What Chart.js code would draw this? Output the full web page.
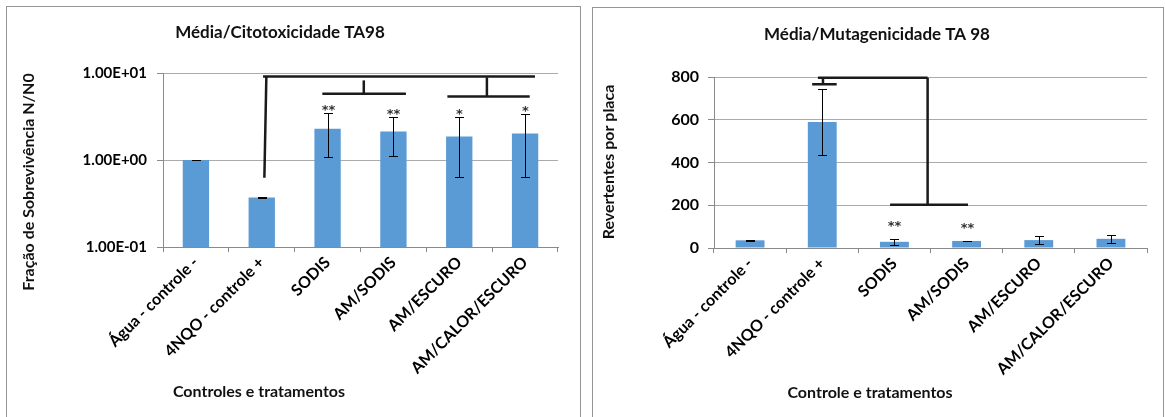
<!DOCTYPE html>
<html>
<head>
<meta charset="utf-8">
<script src="https://cdn.jsdelivr.net/npm/chart.js@4.4.1/dist/chart.umd.min.js"></script>
<style>
  html, body { margin: 0; padding: 0; background: #fff; }
  body { width: 1165px; height: 417px; position: relative; overflow: hidden; }
  .frame { position: absolute; border: 1px solid #959595; box-sizing: border-box; }
  #f1 { left: 6px; top: 6px; width: 575px; height: 440px; }
  #f2 { left: 592px; top: 7px; width: 572px; height: 440px; }
  canvas { position: absolute; }
  #c1 { left: 7px; top: 7px; width: 573px; height: 410px; }
  #c2 { left: 593px; top: 8px; width: 570px; height: 409px; }
</style>
</head>
<body>
<div class="frame" id="f1"></div>
<div class="frame" id="f2"></div>
<canvas id="c1" width="573" height="410"></canvas>
<canvas id="c2" width="570" height="409"></canvas>
<script>
// Groups tested (same for both panels)
const categories = ['Água - controle -', '4NQO - controle +', 'SODIS', 'AM/SODIS', 'AM/ESCURO', 'AM/CALOR/ESCURO'];

// Cytotoxicity: survival fraction N/N0 (log axis)
const cytoMean = [1.0, 0.37, 2.28, 2.12, 1.86, 2.01];
const cytoErr  = [0.003, 0.003, 1.2, 1.0, 1.22, 1.38];
const cytoSig  = ['', '', '**', '**', '*', '*'];
const cytoTicks = [0.1, 1, 10];
const cytoTickLabels = ['1.00E-01', '1.00E+00', '1.00E+01'];

// Mutagenicity: revertants per plate
const mutMean = [36, 590, 29, 33, 37, 43];
const mutErr  = [3, 153, 13, 2, 19, 18];
const mutSig  = ['', '', '**', '**', '', ''];
const mutTicks = [0, 200, 400, 600, 800];

// Comparison brackets, as [category index, value] segment ends
const cytoBrackets = [
  [[1.02, 9.14], [5.15, 9.14]],
  [[1.07, 9.14], [1.04, 0.625]],
  [[1.92, 5.77], [3.19, 5.77]],
  [[2.55, 8.22], [2.55, 5.77]],
  [[3.82, 5.37], [5.07, 5.37]],
  [[4.42, 8.9], [4.42, 5.37]]
];
const mutBrackets = [
  [[0.86, 766], [1.20, 766]],
  [[1.01, 766], [1.01, 797]],
  [[0.94, 797], [2.46, 797]],
  [[2.46, 797], [2.46, 202]],
  [[1.94, 202], [3.02, 202]]
];

const FONT = 'Lato, "Open Sans", sans-serif';
const STAR_FONT = '"DejaVu Sans", sans-serif';
const BAR = '#5B9BD5';
const GRID = '#ababab';
const AXIS = '#8a8a8a';

// Error bars, significance marks, brackets and panel texts
function panelPlugin(cfg) {
  return {
    id: 'panel',
    afterDatasetsDraw(chart) {
      const ctx = chart.ctx;
      const xs = chart.scales.x, ys = chart.scales.y;
      const meta = chart.getDatasetMeta(0);
      ctx.save();
      ctx.strokeStyle = '#000';
      ctx.fillStyle = '#333';
      ctx.lineWidth = 1;
      ctx.font = 'bold 13px ' + STAR_FONT;
      ctx.textAlign = 'center';
      ctx.textBaseline = 'alphabetic';
      cfg.mean.forEach((v, i) => {
        const px = Math.round(meta.data[i].x) + 0.5;
        const e = cfg.err[i];
        const t = Math.round(ys.getPixelForValue(v + e)) + 0.5;
        const b = Math.round(ys.getPixelForValue(v - e)) + 0.5;
        ctx.beginPath();
        ctx.moveTo(px, t); ctx.lineTo(px, b);
        ctx.moveTo(px - 4.5, t); ctx.lineTo(px + 4.5, t);
        ctx.moveTo(px - 4.5, b); ctx.lineTo(px + 4.5, b);
        ctx.stroke();
        if (cfg.sig[i]) ctx.fillText(cfg.sig[i], px, t - cfg.sigGap);
      });
      ctx.strokeStyle = '#1a1a1a';
      ctx.lineWidth = 2.5;
      ctx.lineCap = 'butt';
      cfg.brackets.forEach(([a, b]) => {
        ctx.beginPath();
        ctx.moveTo(xs.getPixelForValue(a[0]), ys.getPixelForValue(a[1]));
        ctx.lineTo(xs.getPixelForValue(b[0]), ys.getPixelForValue(b[1]));
        ctx.stroke();
      });
      ctx.restore();
    },
    afterDraw(chart) {
      const ctx = chart.ctx;
      ctx.save();
      ctx.fillStyle = '#111';
      ctx.textAlign = 'center';
      ctx.textBaseline = 'middle';
      ctx.font = 'bold 17px ' + FONT;
      ctx.fillText(cfg.title, cfg.titlePos[0], cfg.titlePos[1]);
      ctx.font = 'bold 16px ' + FONT;
      ctx.fillText(cfg.xTitle, cfg.xTitlePos[0], cfg.xTitlePos[1]);
      ctx.translate(cfg.yTitlePos[0], cfg.yTitlePos[1]);
      ctx.rotate(-Math.PI / 2);
      ctx.fillText(cfg.yTitle, 0, 0);
      ctx.restore();
    }
  };
}

function makeChart(id, o) {
  return new Chart(document.getElementById(id), {
    type: 'bar',
    data: {
      labels: categories,
      datasets: [{ data: o.mean, backgroundColor: BAR, borderWidth: 0,
                   barPercentage: 0.4, categoryPercentage: 1.0 }]
    },
    options: {
      responsive: false,
      animation: false,
      devicePixelRatio: 1,
      layout: { padding: { left: 0, right: o.padRight, top: o.padTop, bottom: 0 } },
      plugins: { legend: { display: false }, tooltip: { enabled: false }, title: { display: false } },
      scales: {
        x: {
          offset: true,
          grid: { display: true, drawOnChartArea: false, drawTicks: true, tickLength: 5,
                  color: AXIS, offset: true },
          border: { display: true, color: AXIS, width: 1 },
          ticks: { autoSkip: false, maxRotation: 45, minRotation: 45, padding: 1,
                   color: '#000', font: { family: FONT, size: 16, weight: 'bold' } },
          afterFit(s) { s.height = o.xAxisHeight; }
        },
        y: o.yScale
      }
    },
    plugins: [panelPlugin(o)]
  });
}

makeChart('c1', {
  mean: cytoMean, err: cytoErr, sig: cytoSig, brackets: cytoBrackets, sigGap: 0,
  padRight: 22, padTop: 66, xAxisHeight: 170,
  title: 'Média/Citotoxicidade TA98', titlePos: [273, 26],
  yTitle: 'Fração de Sobrevivência N/N0', yTitlePos: [22, 175],
  xTitle: 'Controles e tratamentos', xTitlePos: [252, 385],
  yScale: {
    type: 'logarithmic', min: cytoTicks[0], max: cytoTicks[cytoTicks.length - 1],
    afterBuildTicks(s) { s.ticks = cytoTicks.map(v => ({ value: v })); },
    grid: { color: GRID, tickLength: 6, tickColor: AXIS },
    border: { display: true, color: AXIS },
    ticks: { padding: 10, color: '#000', font: { family: FONT, size: 15, weight: 'bold' },
             callback: (v, i) => cytoTickLabels[i] },
    afterFit(s) { s.width = 156; }
  }
});

makeChart('c2', {
  mean: mutMean, err: mutErr, sig: mutSig, brackets: mutBrackets, sigGap: 10,
  padRight: 16, padTop: 69, xAxisHeight: 169,
  title: 'Média/Mutagenicidade TA 98', titlePos: [284, 27],
  yTitle: 'Revertentes por placa', yTitlePos: [16, 154],
  xTitle: 'Controle e tratamentos', xTitlePos: [277, 385],
  yScale: {
    type: 'linear', min: mutTicks[0], max: mutTicks[mutTicks.length - 1],
    afterBuildTicks(s) { s.ticks = mutTicks.map(v => ({ value: v })); },
    grid: { color: GRID, tickLength: 6, tickColor: AXIS },
    border: { display: true, color: AXIS },
    ticks: { padding: 9, color: '#000', font: { family: FONT, size: 16, weight: 'bold' } },
    afterFit(s) { s.width = 121; }
  }
});
</script>
</body>
</html>
